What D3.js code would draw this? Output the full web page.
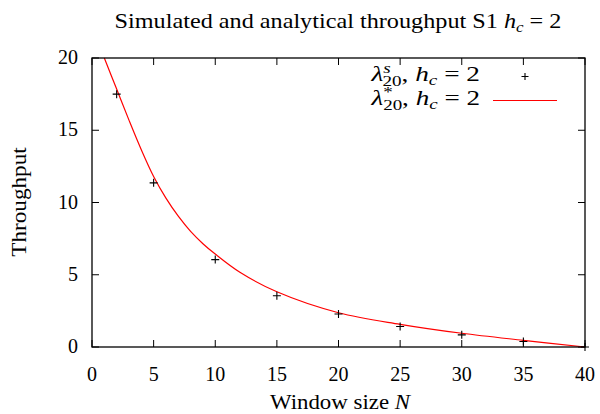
<!DOCTYPE html>
<html><head><meta charset="utf-8">
<script src="https://cdn.jsdelivr.net/npm/d3@7/dist/d3.min.js"></script>
<style>
body{margin:0;background:#fff}
text{font-family:"Liberation Serif","DejaVu Serif",serif;fill:#000}
</style>
</head><body>
<svg id="c" width="600" height="414"></svg>
<script>
// Simulated throughput (points)
const simN = [2, 5, 10, 15, 20, 25, 30, 35, 40];
const simT = [17.5, 11.36, 6.05, 3.55, 2.28, 1.42, 0.84, 0.38, 0.0];
// Analytical throughput (line)
const anaN = [1, 2, 3, 4, 5, 6, 7, 8, 9, 10, 12, 15, 20, 25, 30, 35, 40];
const anaT = [20, 17.85, 15.7, 13.65, 11.8, 10.3, 9.05, 8.0, 7.15, 6.43, 5.17, 3.82, 2.37, 1.57, 0.95, 0.46, 0];
const xTicks = [0, 5, 10, 15, 20, 25, 30, 35, 40];
const yTicks = [0, 5, 10, 15, 20];

const svg = d3.select("#c");
const L = 92, R = 585, T = 58, B = 347;
const x = d3.scaleLinear().domain([0, 40]).range([L, R]);
const y = d3.scaleLinear().domain([0, 20]).range([B, T]);
const fs = 20;

// stretch a text horizontally to a target width about anchor ax
function fitW(t, target, ax) {
  const w = t.node().getBBox().width;
  const k = target / w;
  t.attr("transform", `translate(${ax},0) scale(${k},1) translate(${-ax},0)`);
}

// ticks (inward, mirrored)
const tl = 7;
const g = svg.append("g").attr("stroke", "#000").attr("stroke-width", 1);
xTicks.forEach(v => {
  g.append("line").attr("x1", x(v)).attr("x2", x(v)).attr("y1", B).attr("y2", B - tl);
  g.append("line").attr("x1", x(v)).attr("x2", x(v)).attr("y1", T).attr("y2", T + tl);
});
yTicks.forEach(v => {
  g.append("line").attr("x1", L).attr("x2", L + tl).attr("y1", y(v)).attr("y2", y(v));
  g.append("line").attr("x1", R).attr("x2", R - tl).attr("y1", y(v)).attr("y2", y(v));
});
// tick labels
xTicks.forEach(v => svg.append("text").attr("x", x(v)).attr("y", B + 34)
  .attr("text-anchor", "middle").attr("font-size", fs).text(v));
yTicks.forEach(v => svg.append("text").attr("x", L - 14).attr("y", y(v) + 6)
  .attr("text-anchor", "end").attr("font-size", fs).text(v));

// analytical curve
const line = d3.line().x((d, i) => x(anaN[i])).y((d) => y(d)).curve(d3.curveCatmullRom.alpha(0.5));
svg.append("path").attr("d", line(anaT)).attr("fill", "none")
  .attr("stroke", "#ff0000").attr("stroke-width", 1.2);

// simulated points
const pm = 4;
simN.forEach((n, i) => {
  const px = x(n), py = y(simT[i]);
  svg.append("path").attr("d", `M${px - pm},${py}H${px + pm}M${px},${py - pm}V${py + pm}`)
    .attr("stroke", "#000").attr("stroke-width", 1.1).attr("fill", "none");
});

// border
svg.append("rect").attr("x", L).attr("y", T).attr("width", R - L).attr("height", B - T)
  .attr("fill", "none").attr("stroke", "#000").attr("stroke-width", 1.3);

// title
const title = svg.append("text").attr("x", 338).attr("y", 28).attr("text-anchor", "middle").attr("font-size", fs);
title.append("tspan").text("Simulated and analytical throughput S1 ");
title.append("tspan").attr("font-style", "italic").text("h");
title.append("tspan").attr("font-style", "italic").attr("font-size", fs * 0.7).attr("dy", 4).text("c");
title.append("tspan").attr("dy", -4).text(" = 2");
fitW(title, 447, 338);

// axis titles
const xt = svg.append("text").attr("x", 340).attr("y", 409).attr("text-anchor", "middle").attr("font-size", fs)
  .text("Window size ");
xt.append("tspan").attr("font-style", "italic").text("N");
fitW(xt, 142, 340);
const ytG = svg.append("g").attr("transform", "translate(26,202) rotate(-90)");
const yt = ytG.append("text").attr("x", 0).attr("y", 0).attr("text-anchor", "middle").attr("font-size", fs).text("Throughput");
fitW(yt, 110, 0);

// legend
function legLabel(yy, sup) {
  const t = svg.append("text").attr("x", 480).attr("y", yy).attr("text-anchor", "end").attr("font-size", fs);
  t.append("tspan").attr("font-style", "italic").text("λ");
  t.append("tspan").attr("font-style", sup === "s" ? "italic" : "normal").attr("font-size", fs * 0.7).attr("dy", -8).text(sup);
  t.append("tspan").attr("font-size", fs * 0.7).attr("dx", sup === "s" ? -6 : -7).attr("dy", 13).text("20");
  t.append("tspan").attr("dy", -5).text(", ");
  t.append("tspan").attr("font-style", "italic").text("h");
  t.append("tspan").attr("font-style", "italic").attr("font-size", fs * 0.7).attr("dy", 4).text("c");
  t.append("tspan").attr("dy", -4).text(" = 2");
  fitW(t, 110, 480);
}
legLabel(81, "s");
legLabel(105, "*");
svg.append("path").attr("d", `M${525 - 3.5},76.5H${525 + 3.5}M525,${76.5 - 3.5}V${76.5 + 3.5}`)
  .attr("stroke", "#000").attr("stroke-width", 1.1);
svg.append("line").attr("x1", 493).attr("x2", 557).attr("y1", 100.5).attr("y2", 100.5)
  .attr("stroke", "#ff0000").attr("stroke-width", 1.2);
</script>
</body></html>
